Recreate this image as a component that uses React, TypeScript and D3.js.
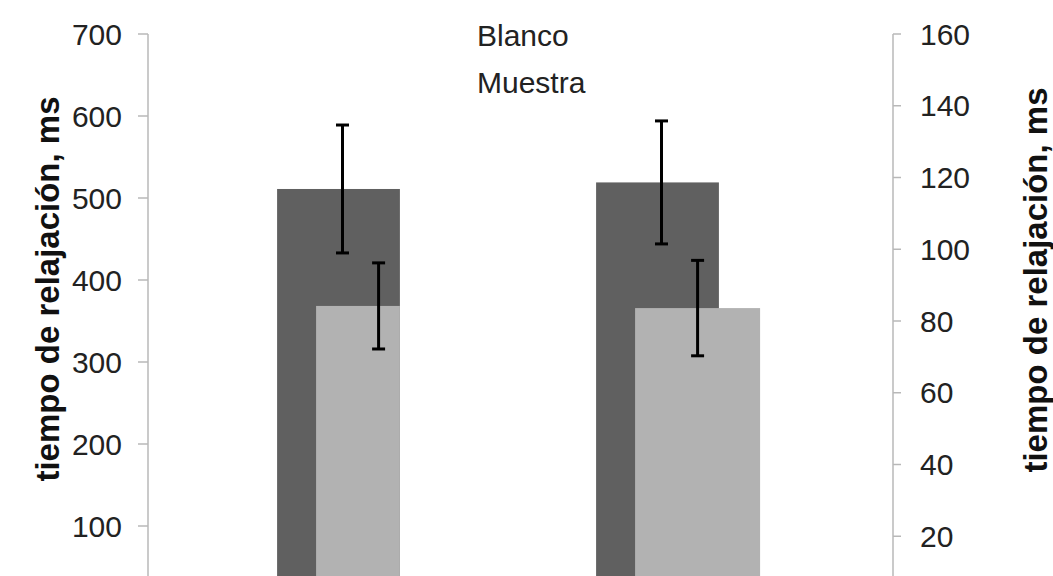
import React, { useRef, useEffect } from "react";
import * as d3 from "d3";

const categories = ["Grupo 1", "Grupo 2"];
const blanco = [511, 519];
const blancoErr = [78, 75];
const muestra = [84.2, 83.6];
const muestraErr = [12, 13.3];
const leftTicks = [100, 200, 300, 400, 500, 600, 700];
const rightTicks = [20, 40, 60, 80, 100, 120, 140, 160];
const legendLabels = ["Blanco", "Muestra"];
const axisTitle = "tiempo de relajación, ms";

const W = 1053;
const H = 576;
const FONT = "'Liberation Sans', Arial, sans-serif";

const App = () => {
  const ref = useRef<SVGSVGElement>(null);

  useEffect(() => {
    const svg = d3.select(ref.current);
    svg.selectAll("*").remove();

    const plot = { left: 148, right: 893, top: 34, bottom: 608 };

    const yL = d3.scaleLinear().domain([0, 700]).range([plot.bottom, plot.top]);
    const yR = d3.scaleLinear().domain([0, 160]).range([plot.bottom, plot.top]);
    const x = d3.scaleBand().domain(categories).range([179, 817]);

    const darkW = x.bandwidth() * 0.385;
    const lightShift = 39;
    const lightW = 125;

    // Blanco bars (primary axis)
    svg.append("g")
      .selectAll("rect")
      .data(blanco)
      .join("rect")
      .attr("x", (d, i) => x(categories[i])! + x.bandwidth() / 2 - darkW / 2)
      .attr("y", d => yL(d))
      .attr("width", darkW)
      .attr("height", d => yL(0) - yL(d))
      .attr("fill", "#606060");

    // Muestra bars (secondary axis); the first one is cut at the dark bar edge
    svg.append("g")
      .selectAll("rect")
      .data(muestra)
      .join("rect")
      .attr("x", (d, i) => x(categories[i])! + x.bandwidth() / 2 - darkW / 2 + lightShift)
      .attr("y", d => yR(d))
      .attr("width", (d, i) => (i === 0 ? darkW - lightShift : lightW))
      .attr("height", d => yR(0) - yR(d))
      .attr("fill", "#b2b2b2");

    const errBars = (vals: number[], errs: number[], y: d3.ScaleLinear<number, number>, cx: (i: number) => number) => {
      const g = svg.append("g").attr("stroke", "#000").attr("stroke-width", 3);
      vals.forEach((v, i) => {
        const c = cx(i);
        g.append("line").attr("x1", c).attr("x2", c).attr("y1", y(v + errs[i])).attr("y2", y(v - errs[i]));
        [v + errs[i], v - errs[i]].forEach(e => {
          g.append("line").attr("x1", c - 6.5).attr("x2", c + 6.5).attr("y1", y(e)).attr("y2", y(e));
        });
      });
    };
    errBars(blanco, blancoErr, yL, i => x(categories[i])! + x.bandwidth() / 2 + 4);
    errBars(muestra, muestraErr, yR, i => x(categories[i])! + x.bandwidth() / 2 - darkW / 2 + lightShift + lightW / 2);

    // left axis
    const gl = svg.append("g");
    gl.append("line")
      .attr("x1", plot.left).attr("x2", plot.left)
      .attr("y1", plot.top).attr("y2", H)
      .attr("stroke", "#b8b8b8").attr("stroke-width", 1.5);
    leftTicks.forEach(t => {
      gl.append("line")
        .attr("x1", plot.left - 10).attr("x2", plot.left)
        .attr("y1", yL(t)).attr("y2", yL(t))
        .attr("stroke", "#b8b8b8").attr("stroke-width", 1.5);
      gl.append("text")
        .attr("x", 122).attr("y", yL(t))
        .attr("dy", "0.35em")
        .attr("text-anchor", "end")
        .attr("font-family", FONT).attr("font-size", 30).attr("fill", "#222")
        .text(t);
    });

    // right axis
    const gr = svg.append("g");
    gr.append("line")
      .attr("x1", plot.right).attr("x2", plot.right)
      .attr("y1", plot.top).attr("y2", H)
      .attr("stroke", "#b8b8b8").attr("stroke-width", 1.5);
    rightTicks.forEach(t => {
      gr.append("line")
        .attr("x1", plot.right).attr("x2", plot.right + 8)
        .attr("y1", yR(t)).attr("y2", yR(t))
        .attr("stroke", "#b8b8b8").attr("stroke-width", 1.5);
      gr.append("text")
        .attr("x", 920).attr("y", yR(t))
        .attr("dy", "0.35em")
        .attr("font-family", FONT).attr("font-size", 30).attr("fill", "#222")
        .text(t);
    });

    // axis titles
    [
      { x: 47, y: 289 },
      { x: 1035, y: 280 },
    ].forEach(p => {
      svg.append("text")
        .attr("transform", `translate(${p.x},${p.y}) rotate(-90)`)
        .attr("text-anchor", "middle")
        .attr("dy", "0.35em")
        .attr("font-family", FONT).attr("font-size", 33).attr("font-weight", "bold").attr("fill", "#111")
        .text(axisTitle);
    });

    // legend (text only)
    legendLabels.forEach((l, i) => {
      svg.append("text")
        .attr("x", 477).attr("y", 46 + i * 47)
        .attr("font-family", FONT).attr("font-size", 30).attr("fill", "#222")
        .text(l);
    });
  }, []);

  return (
    <svg
      ref={ref}
      width={W}
      height={H}
      style={{ position: "absolute", left: 0, top: 0, background: "#fff" }}
    ></svg>
  );
};

export default App;
